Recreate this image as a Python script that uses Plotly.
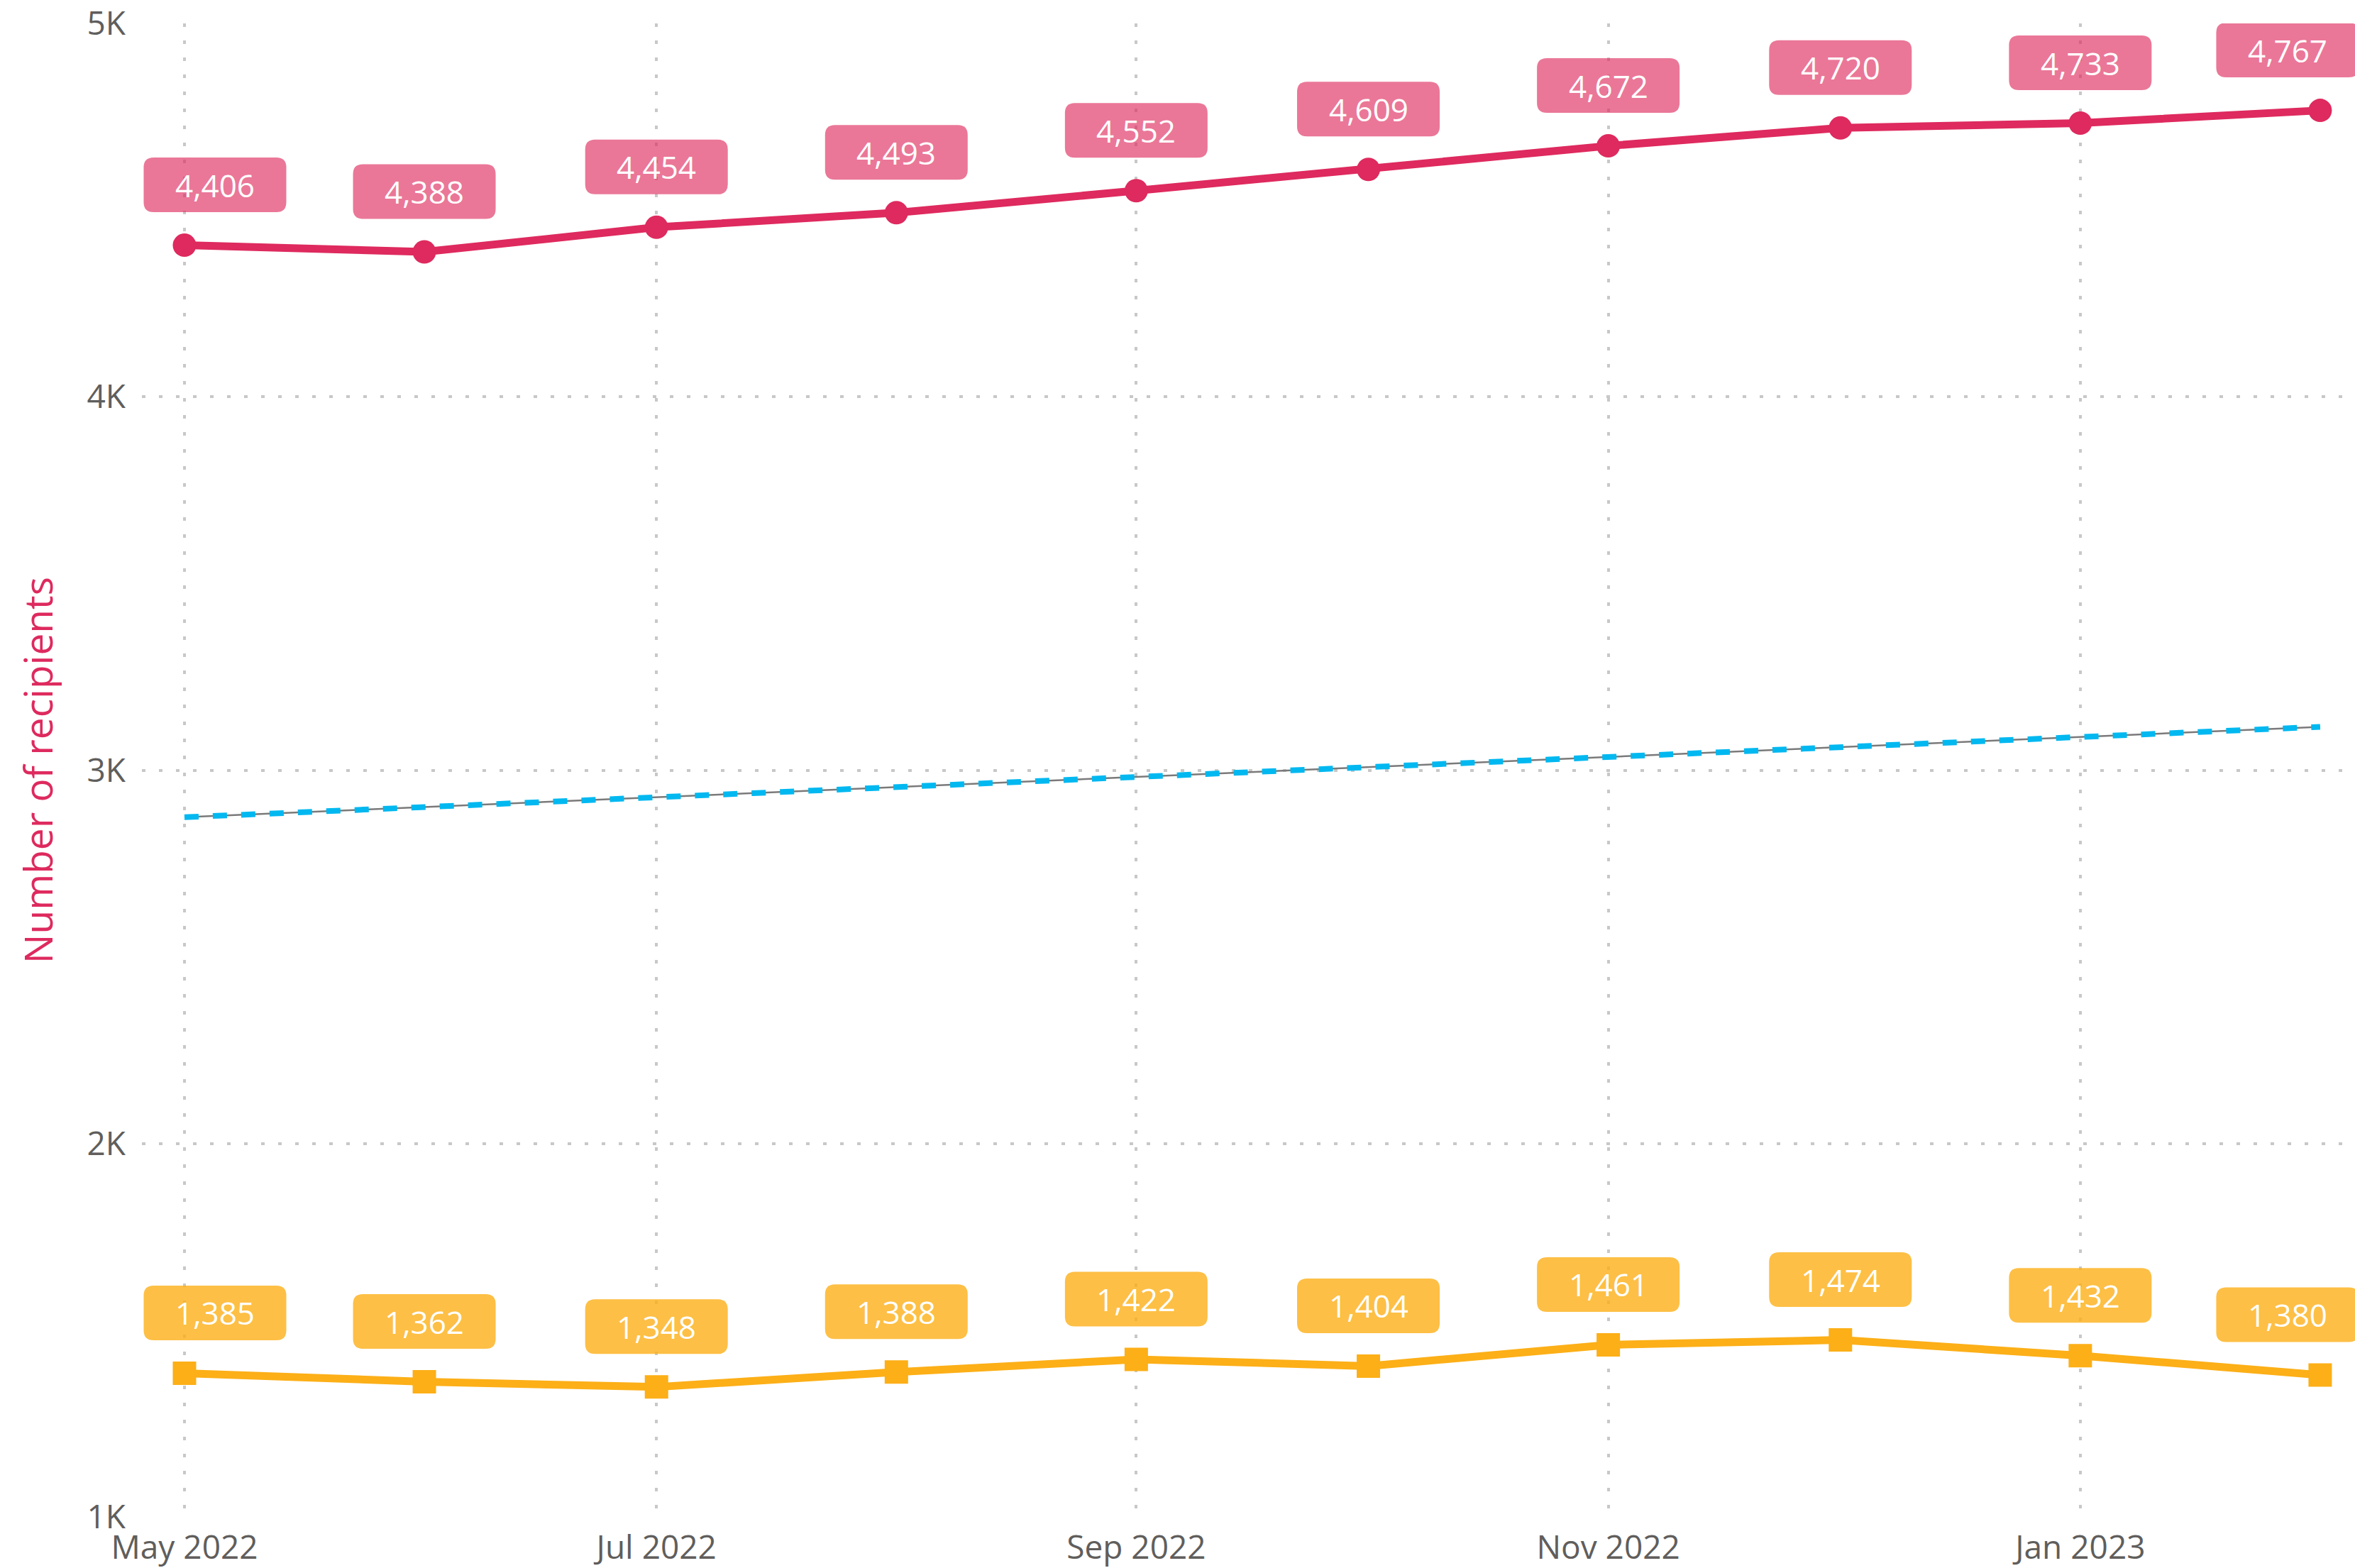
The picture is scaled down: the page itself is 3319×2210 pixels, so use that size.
import plotly.graph_objects as go

# ---- data ----
months = ["2022-05-01", "2022-06-01", "2022-07-01", "2022-08-01", "2022-09-01",
          "2022-10-01", "2022-11-01", "2022-12-01", "2023-01-01", "2023-02-01"]
series_pink = [4406, 4388, 4454, 4493, 4552, 4609, 4672, 4720, 4733, 4767]
series_yellow = [1385, 1362, 1348, 1388, 1422, 1404, 1461, 1474, 1432, 1380]
trend_months = ["2022-05-01", "2023-02-01"]
trend_values = [2874, 3116]
x_tick_vals = ["2022-05-01", "2022-07-01", "2022-09-01", "2022-11-01", "2023-01-01"]
x_tick_text = ["May 2022", "Jul 2022", "Sep 2022", "Nov 2022", "Jan 2023"]
y_tick_vals = [1000, 2000, 3000, 4000, 5000]
y_tick_text = ["1K", "2K", "3K", "4K", "5K"]
y_title = "Number of recipients"

# ---- style ----
PINK = "#DE2A5E"
PINK_BOX = "rgba(222,42,94,0.64)"
YELLOW = "#FCAF17"
YELLOW_BOX = "rgba(252,175,23,0.80)"
BLUE = "#01B8F0"
GRID = "#C8C8C8"
TICK = "#605E5C"
FONT = "Segoe UI, Open Sans, sans-serif"

fig = go.Figure()

# trend line: thin gray line under blue dashes
fig.add_trace(go.Scatter(x=trend_months, y=trend_values, mode="lines",
                         line=dict(color="#7A7A7A", width=2.5),
                         hoverinfo="skip", showlegend=False))
fig.add_trace(go.Scatter(x=trend_months, y=trend_values, mode="lines",
                         line=dict(color=BLUE, width=8, dash="20px,20px"),
                         hoverinfo="skip", showlegend=False))

fig.add_trace(go.Scatter(x=months, y=series_pink, mode="lines+markers",
                         line=dict(color=PINK, width=11),
                         marker=dict(symbol="circle", size=33, color=PINK),
                         showlegend=False))
fig.add_trace(go.Scatter(x=months, y=series_yellow, mode="lines+markers",
                         line=dict(color=YELLOW, width=11),
                         marker=dict(symbol="square", size=33, color=YELLOW),
                         showlegend=False))


def rounded_path(cx, cy, w, h, r):
    l, rt = cx - w / 2, cx + w / 2
    b, t = cy - h / 2, cy + h / 2
    return (f"M {l + r},{b} L {rt - r},{b} Q {rt},{b} {rt},{b + r} "
            f"L {rt},{t - r} Q {rt},{t} {rt - r},{t} "
            f"L {l + r},{t} Q {l},{t} {l},{t - r} "
            f"L {l},{b + r} Q {l},{b} {l + r},{b} Z")


BOX_W, BOX_H, BOX_R, BOX_DY = 201, 77, 14, 85
shapes = []
annotations = []
n = len(months)
for vals, fill in ((series_pink, PINK_BOX), (series_yellow, YELLOW_BOX)):
    for i, (m, v) in enumerate(zip(months, vals)):
        dx = 43 if i == 0 else (-46 if i == n - 1 else 0)
        shapes.append(dict(type="path", xref="x", yref="y",
                           xsizemode="pixel", ysizemode="pixel",
                           xanchor=m, yanchor=v,
                           path=rounded_path(dx, BOX_DY, BOX_W, BOX_H, BOX_R),
                           fillcolor=fill, line=dict(width=0), layer="above"))
        annotations.append(dict(x=m, y=v, xref="x", yref="y", text=f"{v:,}",
                                showarrow=False, xshift=dx, yshift=BOX_DY,
                                font=dict(family=FONT, size=44, color="white")))

fig.update_layout(
    width=3319, height=2210,
    margin=dict(l=200, r=0, t=33, b=72, autoexpand=False),
    paper_bgcolor="white", plot_bgcolor="white",
    showlegend=False,
    font=dict(family=FONT, color=TICK),
    shapes=shapes, annotations=annotations,
    xaxis=dict(type="date", range=["2022-04-25 12:00", "2023-02-05 12:00"],
               tickvals=x_tick_vals, ticktext=x_tick_text,
               tickfont=dict(size=46, color=TICK), automargin=False,
               showgrid=True, gridcolor=GRID, gridwidth=4, griddash="5px,19px",
               showline=False, zeroline=False, ticks="", ticklabelstandoff=12),
    yaxis=dict(range=[1000, 5000], tickvals=y_tick_vals, ticktext=y_tick_text,
               tickfont=dict(size=46, color=TICK), automargin=False,
               showgrid=True, gridcolor=GRID, gridwidth=4, griddash="5px,19px",
               showline=False, zeroline=False, ticks="", ticklabelstandoff=22,
               title=dict(text=y_title, font=dict(size=55, color=PINK), standoff=30)),
)

fig.write_html("out.html", config={"displayModeBar": False},
               post_script="document.body.style.margin='0';document.body.style.overflow='hidden';")
